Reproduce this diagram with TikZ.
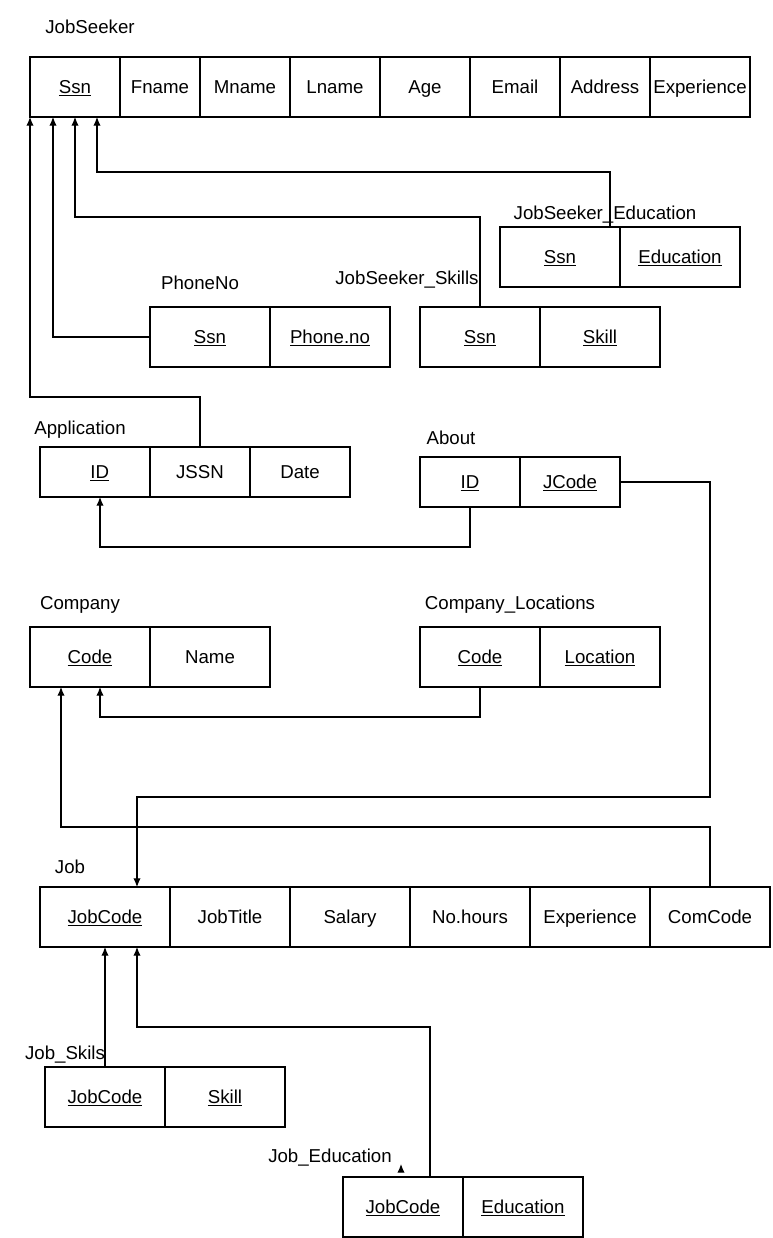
\documentclass[tikz,border=0pt]{standalone}
\usepackage{fontspec}
\setmainfont{Liberation Sans}
\usetikzlibrary{positioning,calc,arrows.meta}

\begin{document}
\begin{tikzpicture}[x=0.75pt,y=-0.75pt,node distance=0pt,
   cell/.style={draw,line width=0.8pt,minimum height=45pt,inner sep=0pt,outer sep=0pt,
      text height=12pt,text depth=2pt,font=\fontsize{14}{17}\selectfont},
   colw/.style={minimum width=#1*0.75pt},
   low/.style={minimum height=37.5pt},
   tname/.style={inner sep=0pt,text height=12pt,text depth=2pt,font=\fontsize{14}{17}\selectfont},
   fk/.style={line width=0.8pt,-{Latex[length=6.5pt,width=5.5pt]}}]
\useasboundingbox (0,0) rectangle (772,1238);

% JobSeeker
\node[tname] (js-name) at (90,27) {JobSeeker};
\node[cell,colw=90,anchor=north west] (js-ssn) at (30,57) {\underline{Ssn}};
\node[cell,colw=80,right=of js-ssn] (js-fname) {Fname};
\node[cell,colw=90,right=of js-fname] (js-mname) {Mname};
\node[cell,colw=90,right=of js-mname] (js-lname) {Lname};
\node[cell,colw=90,right=of js-lname] (js-age) {Age};
\node[cell,colw=90,right=of js-age] (js-email) {Email};
\node[cell,colw=90,right=of js-email] (js-addr) {Address};
\node[cell,colw=100,right=of js-addr] (js-exp) {Experience};

% JobSeeker_Education
\node[tname] (jse-name) at (605,213) {JobSeeker\_Education};
\node[cell,colw=120,anchor=north west] (jse-ssn) at (500,227) {\underline{Ssn}};
\node[cell,colw=120,right=of jse-ssn] (jse-edu) {\underline{Education}};

% PhoneNo
\node[tname] (ph-name) at (200,283) {PhoneNo};
\node[cell,colw=120,anchor=north west] (ph-ssn) at (150,307) {\underline{Ssn}};
\node[cell,colw=120,right=of ph-ssn] (ph-no) {\underline{Phone.no}};

% JobSeeker_Skills
\node[tname] (jss-name) at (407,278) {JobSeeker\_Skills};
\node[cell,colw=120,anchor=north west] (jss-ssn) at (420,307) {\underline{Ssn}};
\node[cell,colw=120,right=of jss-ssn] (jss-skill) {\underline{Skill}};

% Application
\node[tname] (app-name) at (80,428) {Application};
\node[cell,low,colw=110,anchor=north west] (app-id) at (40,447) {\hspace{7pt}\underline{ID}};
\node[cell,low,colw=100,right=of app-id] (app-jssn) {JSSN};
\node[cell,low,colw=100,right=of app-jssn] (app-date) {Date};

% About
\node[tname] (ab-name) at (451,438) {About};
\node[cell,low,colw=100,anchor=north west] (ab-id) at (420,457) {\underline{ID}};
\node[cell,low,colw=100,right=of ab-id] (ab-jcode) {\underline{JCode}};

% Company
\node[tname] (co-name) at (80,603) {Company};
\node[cell,colw=120,anchor=north west] (co-code) at (30,627) {\underline{Code}};
\node[cell,colw=120,right=of co-code] (co-nm) {Name};

% Company_Locations
\node[tname] (cl-name) at (510,603) {Company\_Locations};
\node[cell,colw=120,anchor=north west] (cl-code) at (420,627) {\underline{Code}};
\node[cell,colw=120,right=of cl-code] (cl-loc) {\underline{Location}};

% Job
\node[tname] (job-name) at (70,867) {Job};
\node[cell,colw=130,anchor=north west] (job-code) at (40,887) {\underline{JobCode}};
\node[cell,colw=120,right=of job-code] (job-title) {JobTitle};
\node[cell,colw=120,right=of job-title] (job-sal) {Salary};
\node[cell,colw=120,right=of job-sal] (job-hrs) {No.hours};
\node[cell,colw=120,right=of job-hrs] (job-exp) {Experience};
\node[cell,colw=120,right=of job-exp] (job-com) {ComCode};

% Job_Skils
\node[tname] (jsk-name) at (65,1053) {Job\_Skils};
\node[cell,colw=120,anchor=north west] (jsk-code) at (45,1067) {\underline{JobCode}};
\node[cell,colw=120,right=of jsk-code] (jsk-skill) {\underline{Skill}};

% Job_Education
\node[tname] (jed-name) at (330,1156) {Job\_Education};
\node[cell,colw=120,anchor=north west] (jed-code) at (343,1177) {\underline{JobCode}};
\node[cell,colw=120,right=of jed-code] (jed-edu) {\underline{Education}};

% foreign keys
\draw[fk] ($(jse-ssn.north east)+(-10,0)$) -- ++(0,-55) -| ($(js-ssn.south west)+(67,0)$);
\draw[fk] (jss-ssn.north) -- ++(0,-90) -| ($(js-ssn.south west)+(45,0)$);
\draw[fk] (ph-ssn.west) -| ($(js-ssn.south west)+(23,0)$);
\draw[fk] (app-jssn.north) -- ++(0,-50) -| (js-ssn.south west);
\draw[fk] (ab-id.south) -- ++(0,40) -| ($(app-id.south west)+(60,0)$);
\draw[fk] (ab-jcode.east) -| ++(90,315) -| ($(job-code.north west)+(97,0)$);
\draw[fk] (cl-code.south) -- ++(0,30) -| ($(co-code.south west)+(70,0)$);
\draw[fk] (job-com.north) -- ++(0,-60) -| ($(co-code.south west)+(31,0)$);
\draw[fk] (jsk-code.north) -- (jsk-code.north |- job-code.south);
\draw[fk] ($(jed-code.north east)+(-33,0)$) -- ++(0,-150) -| ($(job-code.south west)+(97,0)$);
\coordinate (jed-stub) at ($(jed-code.north)+(-2,-6)$);
\draw[fk] (jed-stub) -- ++(0,-7);
\end{tikzpicture}
\end{document}
